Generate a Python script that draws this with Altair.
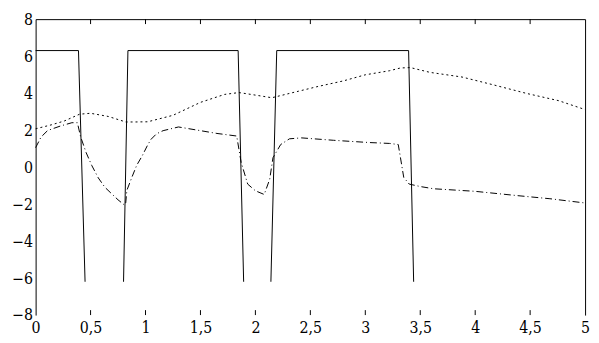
import altair as alt
import pandas as pd

# Square wave (solid), drawn as separate pulses (no line along the bottom)
wave_x = [0, 0.39, 0.45, 0.80, 0.84, 1.843, 1.893, 2.141, 2.194, 3.394, 3.44]
wave_y = [6.3, 6.3, -6.2, -6.2, 6.3, 6.3, -6.2, -6.2, 6.3, 6.3, -6.2]
wave_seg = [1, 1, 1, 2, 2, 2, 2, 3, 3, 3, 3]

# Upper dotted series
dot_x = [0, 0.14, 0.26, 0.40, 0.5, 0.66, 0.82, 0.9, 1.02, 1.25, 1.5, 1.72, 1.85, 1.96,
         2.15, 2.39, 2.57, 2.8, 3.0, 3.22, 3.32, 3.41, 3.59, 3.88, 4.17, 4.47, 4.76, 5.0]
dot_y = [2.07, 2.28, 2.49, 2.86, 2.91, 2.74, 2.44, 2.44, 2.45, 2.8, 3.5, 3.93, 4.03, 3.93,
         3.75, 4.1, 4.36, 4.66, 4.99, 5.21, 5.36, 5.38, 5.12, 4.87, 4.44, 3.98, 3.59, 3.11]

# Lower dash-dot series
dd_x = [0, 0.05, 0.11, 0.23, 0.33, 0.38, 0.41, 0.46, 0.51, 0.57, 0.63, 0.69, 0.75, 0.81,
        0.82, 0.83, 0.88, 0.92, 0.97, 1.02, 1.05, 1.1, 1.16, 1.3, 1.5, 1.65, 1.83, 1.87,
        1.93, 2.0, 2.08, 2.13, 2.16, 2.23, 2.31, 2.42, 2.71, 3.03, 3.22, 3.30, 3.35, 3.40,
        3.5, 3.62, 4.0, 4.38, 4.68, 5.0]
dd_y = [1.05, 1.63, 1.98, 2.23, 2.4, 2.4, 1.63, 0.78, 0.1, -0.58, -1.09, -1.43, -1.77, -2.06,
        -1.94, -1.26, -0.49, 0.1, 0.61, 1.2, 1.5, 1.8, 1.97, 2.17, 1.97, 1.82, 1.68, 0.26,
        -0.92, -1.28, -1.48, -0.66, 0.51, 1.22, 1.53, 1.58, 1.45, 1.33, 1.28, 1.22, -0.56, -0.92,
        -1.05, -1.17, -1.31, -1.54, -1.71, -1.94]

tick_x = [0.5, 1, 1.5, 2, 2.5, 3, 3.5, 4, 4.5]
x_ticks = [0, 0.5, 1, 1.5, 2, 2.5, 3, 3.5, 4, 4.5, 5]
y_ticks = [-8, -6, -4, -2, 0, 2, 4, 6, 8]

W, H = 557, 300
FONT = "DejaVu Serif Condensed, DejaVu Serif"
FS = 16
xs = alt.Scale(domain=[0, 5], nice=False, zero=False)
ys = alt.Scale(domain=[-8, 8], nice=False, zero=False)

wave_df = pd.DataFrame({"x": wave_x, "y": wave_y, "seg": wave_seg})
dot_df = pd.DataFrame({"x": dot_x, "y": dot_y})
dd_df = pd.DataFrame({"x": dd_x, "y": dd_y})
tick_df = pd.DataFrame({"x": tick_x})

x_bottom = alt.Axis(orient="bottom", values=x_ticks, domain=False, ticks=False, grid=False,
                    labelExpr="replace(toString(datum.value), '.', ',')",
                    labelFont=FONT, labelFontSize=FS, labelColor="black", labelPadding=5,
                    labelFlush=False, labelOverlap=False, title=None)
y_left = alt.Axis(orient="left", values=y_ticks, domain=True, domainColor="black", ticks=False,
                  grid=False, labelFont=FONT, labelFontSize=FS, labelColor="black",
                  labelPadding=3, labelFlush=False, labelOverlap=False, title=None)
x_top = alt.Axis(orient="top", domain=True, domainColor="black", labels=False, ticks=False,
                 grid=False, title=None)
y_right = alt.Axis(orient="right", domain=True, domainColor="black", labels=False, ticks=False,
                   grid=False, title=None)

wave = alt.Chart(wave_df).mark_line(color="black", strokeWidth=1).encode(
    x=alt.X("x:Q", scale=xs, axis=x_bottom),
    y=alt.Y("y:Q", scale=ys, axis=y_left),
    detail="seg:N",
    order="x:Q",
)
dots = alt.Chart(dot_df).mark_line(color="black", strokeWidth=1, strokeDash=[2, 3]).encode(
    x=alt.X("x:Q", scale=xs, axis=x_top),
    y=alt.Y("y:Q", scale=ys, axis=y_right),
)
dd = alt.Chart(dd_df).mark_line(color="black", strokeWidth=1, strokeDash=[7, 3, 1, 3]).encode(
    x=alt.X("x:Q", scale=xs, axis=None),
    y=alt.Y("y:Q", scale=ys, axis=None),
)
ticks_bottom = alt.Chart(tick_df).mark_rule(color="black", strokeWidth=1).encode(
    x=alt.X("x:Q", scale=xs, axis=None),
    y=alt.value(H),
    y2=alt.value(H - 5),
)
ticks_top = alt.Chart(tick_df).mark_rule(color="black", strokeWidth=1).encode(
    x=alt.X("x:Q", scale=xs, axis=None),
    y=alt.value(0),
    y2=alt.value(5),
)

chart = alt.layer(wave, dots, dd, ticks_bottom, ticks_top).resolve_axis(
    x="independent", y="independent"
).properties(
    width=W, height=H,
    autosize=alt.AutoSizeParams(type="none"),
    padding={"left": 28, "top": 9, "right": 6, "bottom": 24},
).configure_view(stroke=None).configure_axis(
    labelFont=FONT, labelFontSize=FS, labelColor="black"
)

chart.save("out.html", embed_options={"renderer": "svg", "actions": False})
